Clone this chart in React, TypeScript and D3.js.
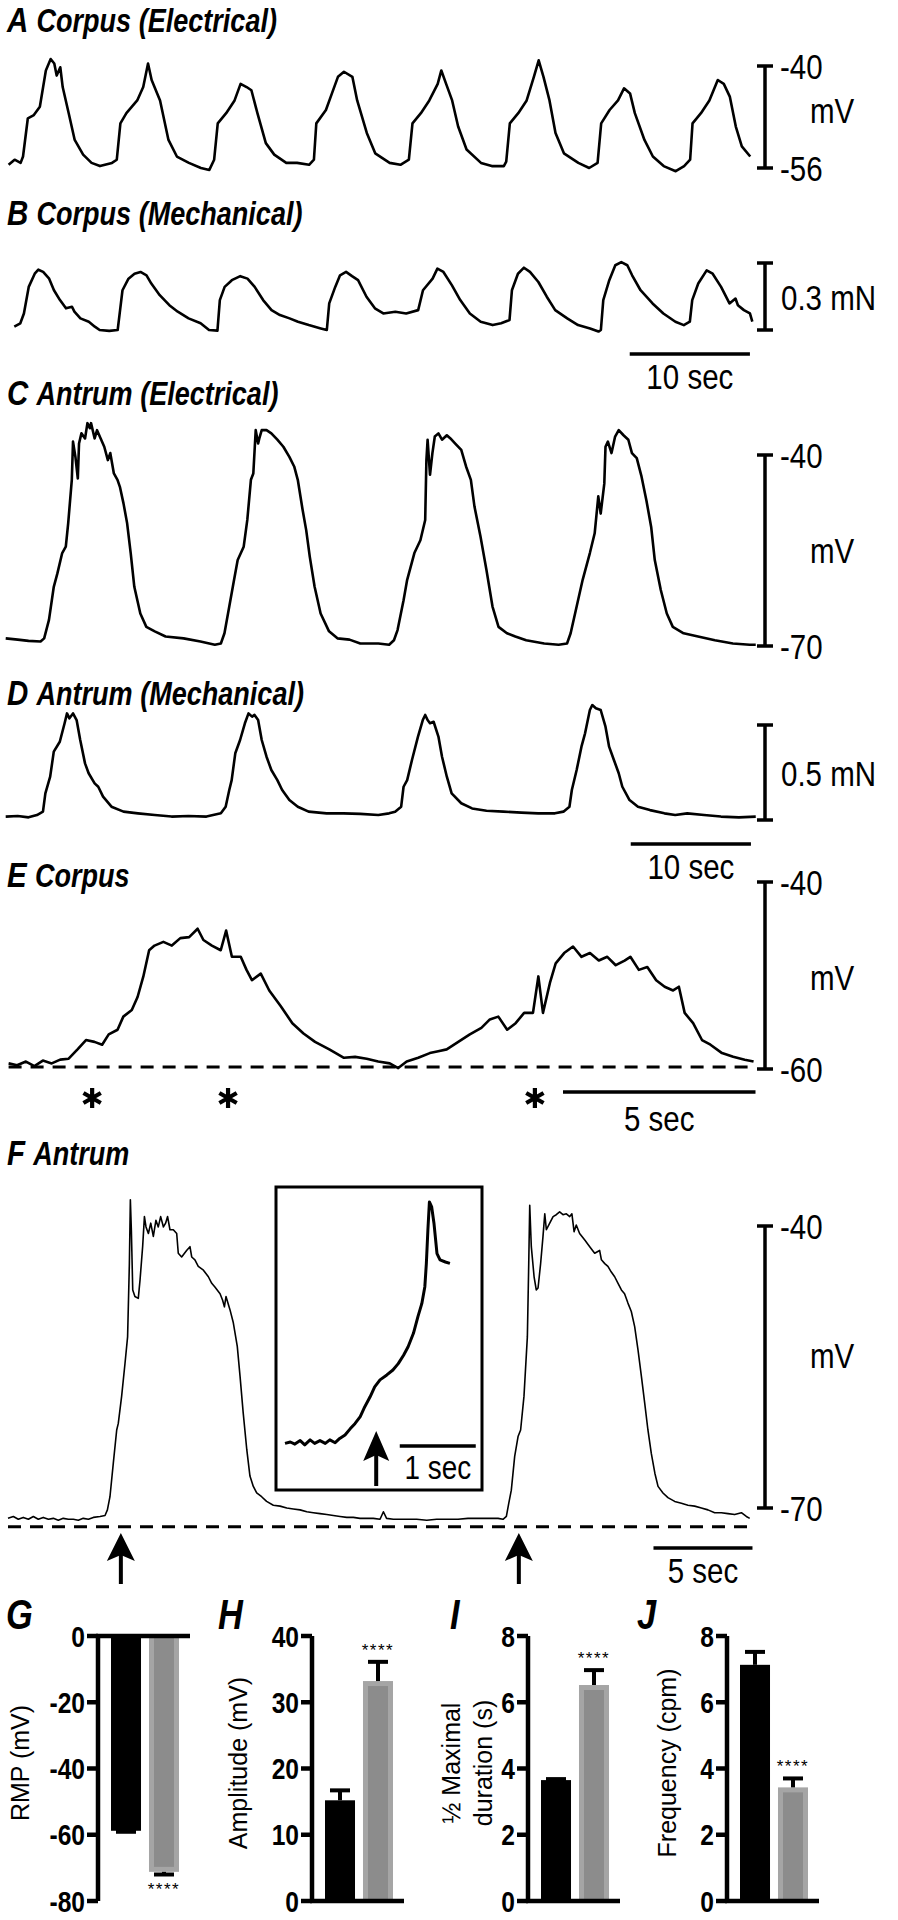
import * as d3 from "d3";
import React from "react";

const W = 898;
const H = 1920;
const FONT = "'Liberation Sans', Arial, Helvetica, sans-serif";
const NARROW = 0.82; // the figure uses a condensed face

// ---- traces: [time (s), value] ----
// A corpus electrical, mV
const corpusElec: [number, number][] = [
  [0,-55.5],[0.5,-54.7],[1.0,-55.2],[1.2,-54.2],[1.6,-48.2],[2.1,-47.7],[2.6,-46.4],[3.1,-40.7],[3.5,-38.9],[3.8,-39.6],[4.0,-41.5],[4.3,-40.2],[4.5,-43.3],[5.0,-47.4],[5.5,-51.6],[6.2,-53.9],[6.9,-55.2],[7.6,-55.7],[8.6,-55.2],[9.0,-54.7],
  [9.3,-49.0],[9.8,-47.4],[10.7,-45.4],[11.2,-43.3],[11.6,-39.6],[11.9,-42.2],[12.6,-45.4],[13.3,-51.6],[14.0,-54.2],[15.0,-55.2],[16.0,-56.0],[16.7,-56.3],[17.1,-54.7],
  [17.4,-49.0],[18.1,-47.4],[18.8,-45.4],[19.3,-42.8],[19.8,-43.3],[20.2,-43.8],[20.7,-47.4],[21.4,-52.1],[22.1,-53.9],[23.1,-55.2],[24.0,-55.2],[25.0,-55.5],[25.4,-54.7],
  [25.6,-49.0],[26.4,-46.9],[26.9,-44.3],[27.4,-41.7],[27.9,-40.9],[28.6,-41.7],[29.0,-45.4],[29.8,-50.5],[30.5,-53.7],[31.7,-55.2],[32.6,-55.5],[33.3,-54.7],
  [33.6,-49.0],[34.3,-47.4],[35.0,-45.4],[35.7,-42.8],[36.0,-40.7],[36.4,-42.8],[36.9,-45.4],[37.4,-49.5],[38.1,-53.1],[39.3,-55.2],[40.2,-55.7],[41.2,-55.7],[41.4,-55.0],
  [41.7,-49.0],[42.4,-47.4],[43.1,-45.4],[43.7,-41.7],[44.1,-39.1],[44.5,-41.7],[45.0,-45.4],[45.5,-50.5],[46.2,-53.7],[47.4,-55.2],[48.3,-56.0],[49.0,-55.2],
  [49.3,-49.0],[50.0,-46.9],[50.7,-45.4],[51.2,-43.5],[51.7,-44.3],[52.1,-47.4],[52.9,-51.6],[53.6,-54.2],[54.5,-55.7],[55.5,-56.5],[56.2,-55.7],[56.7,-54.7],
  [56.9,-49.0],[57.6,-47.4],[58.3,-45.4],[59.0,-42.2],[59.5,-42.8],[60.0,-44.8],[60.5,-49.5],[61.0,-52.6],[61.7,-54.2],
];

// B corpus mechanical, mN
const corpusMech: [number, number][] = [
  [0,0.015],[0.5,0.030],[0.8,0.074],[1.2,0.193],[1.7,0.252],[2.0,0.270],[2.4,0.260],[2.9,0.230],[3.3,0.178],[3.8,0.134],[4.3,0.097],[4.8,0.104],[5.0,0.082],[5.5,0.052],[6.2,0.037],[6.7,0.015],[7.1,0],[7.9,-0.004],[8.6,0],
  [8.8,0.089],[9.0,0.178],[9.5,0.230],[10.0,0.252],[10.5,0.260],[11.0,0.245],[11.4,0.208],[12.1,0.156],[12.9,0.111],[13.6,0.082],[14.5,0.052],[15.5,0.030],[16.2,0],[16.9,-0.003],
  [17.1,0.134],[17.5,0.193],[18.1,0.223],[18.8,0.241],[19.4,0.230],[20.0,0.193],[20.7,0.134],[21.4,0.089],[22.1,0.067],[22.9,0.052],[23.6,0.037],[24.5,0.022],[25.5,0.007],[26.0,0],
  [26.2,0.119],[26.7,0.193],[27.1,0.245],[27.6,0.260],[28.1,0.241],[28.6,0.223],[29.3,0.149],[30.0,0.097],[30.7,0.074],[31.7,0.082],[32.6,0.074],[33.6,0.089],
  [34.0,0.178],[34.8,0.230],[35.2,0.275],[35.7,0.260],[36.4,0.201],[37.1,0.134],[37.9,0.074],[38.8,0.037],[39.8,0.022],[40.5,0.030],[41.2,0.045],
  [41.4,0.178],[41.9,0.252],[42.4,0.279],[42.9,0.260],[43.6,0.215],[44.3,0.149],[45.0,0.089],[46.0,0.052],[46.9,0.022],[47.9,0.007],[48.6,-0.007],[48.8,0],
  [49.0,0.134],[49.5,0.223],[50.0,0.290],[50.5,0.304],[51.0,0.290],[51.4,0.245],[52.1,0.178],[53.1,0.119],[54.0,0.074],[55.0,0.037],[55.7,0.022],[56.2,0.037],
  [56.4,0.134],[56.9,0.208],[57.6,0.267],[58.1,0.252],[58.8,0.193],[59.5,0.119],[60.0,0.141],[60.2,0.111],[60.7,0.089],[61.2,0.074],[61.4,0.037],
];

// C antrum electrical, mV
const antrumElec: [number, number][] = [
  [0,-68.8],[1.0,-69.0],[1.9,-69.2],[2.9,-69.3],[3.2,-68.8],[3.6,-65.9],[4.0,-60.7],[4.3,-58.6],[4.7,-55.4],[5.0,-54.4],[5.2,-50.7],[5.5,-43.9],[5.6,-37.9],[5.8,-40.3],[6.0,-43.7],[6.1,-38.2],[6.3,-36.6],[6.6,-37.4],[6.8,-35.0],[7.0,-35.8],[7.1,-35.0],[7.4,-37.4],[7.6,-36.1],[7.9,-37.4],[8.2,-38.7],[8.5,-40.8],[8.7,-39.7],[9.0,-42.9],[9.3,-43.9],[9.5,-45.0],[9.8,-47.6],[10.1,-50.7],[10.4,-55.4],[10.7,-60.7],[11.2,-64.9],[11.7,-67.0],[12.4,-67.7],[13.3,-68.5],[14.8,-68.8],[16.2,-69.3],[17.4,-69.8],[17.9,-69.6],
  [18.2,-68.0],[18.6,-63.8],[19.0,-59.6],[19.3,-56.5],[19.8,-54.4],[20.1,-50.2],[20.4,-43.9],[20.6,-42.9],[20.8,-36.1],[21.0,-38.2],[21.1,-37.4],[21.3,-36.1],[21.7,-36.1],[22.1,-36.6],[22.6,-37.6],[23.1,-38.7],[23.6,-40.3],[24.0,-41.8],[24.3,-43.9],[24.7,-48.6],[25.0,-51.8],[25.3,-56.0],[25.7,-60.7],[26.2,-64.9],[26.9,-67.7],[27.6,-68.8],[28.6,-69.0],[29.5,-69.6],[31.0,-69.6],[31.9,-69.8],[32.3,-69.1],
  [32.6,-67.5],[33.1,-62.8],[33.4,-59.6],[34.0,-55.4],[34.5,-53.4],[34.9,-50.2],[35.0,-40.8],[35.1,-37.6],[35.3,-43.1],[35.5,-39.7],[35.7,-37.1],[36.0,-36.6],[36.3,-37.6],[36.7,-36.9],[37.0,-37.4],[37.4,-38.2],[37.9,-39.2],[38.3,-41.8],[38.7,-43.9],[39.0,-48.1],[39.5,-52.8],[40.0,-58.1],[40.5,-63.8],[41.0,-67.0],[41.7,-68.0],[42.4,-68.5],[43.3,-69.1],[44.8,-69.6],[46.0,-69.8],[46.7,-69.6],
  [47.0,-68.0],[47.5,-63.8],[48.0,-59.6],[48.6,-55.4],[49.0,-52.3],[49.3,-46.5],[49.5,-49.2],[49.8,-44.5],[49.9,-38.7],[50.1,-37.9],[50.4,-39.7],[50.7,-37.1],[51.0,-36.1],[51.4,-36.9],[51.8,-37.6],[52.1,-39.7],[52.5,-40.5],[52.9,-43.4],[53.3,-47.1],[53.7,-51.3],[54.0,-56.5],[54.5,-61.2],[55.0,-64.9],[55.5,-67.0],[56.4,-68.0],[57.6,-68.5],[59.0,-69.1],[60.5,-69.6],[61.9,-69.8],[62.4,-69.8],
];

// D antrum mechanical, mN
const antrumMech: [number, number][] = [
  [0,0.018],[1.0,0.021],[1.9,0.014],[2.6,0.026],[3.1,0.044],[3.3,0.140],[3.7,0.228],[4.0,0.360],[4.5,0.412],[4.9,0.509],[5.1,0.561],[5.3,0.535],[5.6,0.561],[5.9,0.526],[6.2,0.421],[6.6,0.298],[6.9,0.246],[7.4,0.193],[7.7,0.175],[8.1,0.123],[8.8,0.070],[9.8,0.044],[11.0,0.035],[12.4,0.026],[13.8,0.018],[15.2,0.021],[16.7,0.018],[17.9,0.035],
  [18.3,0.070],[18.6,0.158],[18.8,0.210],[19.1,0.351],[19.5,0.421],[19.9,0.509],[20.2,0.561],[20.5,0.544],[20.7,0.553],[21.0,0.526],[21.3,0.421],[21.7,0.333],[22.1,0.263],[22.6,0.210],[23.0,0.158],[23.6,0.105],[24.3,0.070],[25.2,0.044],[26.7,0.035],[28.1,0.035],[29.5,0.032],[31.0,0.026],[31.9,0.035],[32.4,0.044],
  [32.9,0.070],[33.1,0.175],[33.4,0.210],[33.8,0.316],[34.3,0.439],[34.7,0.526],[34.9,0.553],[35.1,0.526],[35.3,0.509],[35.6,0.517],[36.0,0.439],[36.3,0.333],[36.7,0.228],[37.1,0.140],[37.9,0.088],[38.8,0.061],[40.0,0.049],[41.4,0.044],[42.9,0.039],[44.3,0.035],[45.7,0.035],[46.4,0.044],
  [46.9,0.070],[47.1,0.158],[47.5,0.263],[47.9,0.386],[48.2,0.456],[48.6,0.579],[48.8,0.605],[49.1,0.588],[49.5,0.579],[49.9,0.491],[50.2,0.386],[50.6,0.316],[51.0,0.246],[51.3,0.175],[51.9,0.105],[52.6,0.070],[53.6,0.052],[54.8,0.035],[55.7,0.026],[56.7,0.035],[58.1,0.026],[59.5,0.018],[61.0,0.014],[62.4,0.018],
];

// E corpus slow wave, mV
const corpusSlow: [number, number][] = [
  [0,-59.4],[0.22,-59.6],[0.45,-59.2],[0.67,-59.7],[0.89,-59.1],[1.12,-59.4],[1.34,-59.0],[1.56,-58.9],[1.79,-57.9],[2.01,-56.9],[2.23,-57.1],[2.43,-57.4],[2.60,-56.3],[2.83,-55.8],[2.98,-54.4],[3.20,-53.7],[3.35,-52.3],[3.50,-50.1],[3.65,-47.3],[3.79,-46.8],[4.02,-46.4],[4.24,-46.8],[4.46,-46.0],[4.69,-45.9],[4.91,-45.0],[5.06,-46.2],[5.28,-46.8],[5.51,-47.3],[5.65,-45.2],[5.80,-48.0],[6.03,-48.0],[6.18,-49.4],[6.32,-50.5],[6.55,-49.8],[6.77,-51.6],[7.07,-53.3],[7.37,-55.1],[7.66,-56.2],[7.96,-57.1],[8.33,-57.9],[8.71,-58.8],[9.00,-58.7],[9.30,-58.9],[9.60,-59.2],[9.90,-59.4],[10.12,-59.9],[10.34,-59.2],[10.64,-58.8],[10.94,-58.3],[11.16,-58.1],[11.38,-57.9],[11.68,-57.1],[11.98,-56.3],[12.28,-55.6],[12.50,-54.7],[12.72,-54.4],[12.95,-55.8],[13.17,-55.1],[13.39,-54.0],[13.62,-54.0],[13.76,-50.1],[13.88,-54.0],[14.06,-50.8],[14.21,-48.7],[14.43,-47.6],[14.66,-46.9],[14.88,-48.0],[15.10,-47.6],[15.33,-48.4],[15.55,-48.0],[15.77,-48.9],[16.00,-48.4],[16.15,-48.0],[16.37,-49.4],[16.59,-49.1],[16.82,-50.5],[17.04,-51.2],[17.26,-51.6],[17.41,-51.2],[17.56,-54.0],[17.78,-55.1],[18.01,-56.9],[18.23,-57.4],[18.53,-58.3],[18.82,-58.7],[19.12,-59.0],[19.35,-59.2],
];
const corpusStars = [2.17, 5.7, 13.67];

// F antrum slow wave, mV
const antrumSlow: [number, number][] = [
  [0,-71.1],[0.27,-70.9],[0.52,-71.2],[0.77,-71.0],[1.03,-71.2],[1.28,-70.9],[1.53,-71.2],[1.78,-71.0],[2.04,-71.2],[2.29,-71.1],[2.54,-71.3],[2.79,-71.1],[3.05,-71.2],[3.30,-71.2],[3.55,-71.3],[3.80,-71.1],[4.06,-71.2],[4.31,-71.0],[4.65,-70.9],[4.90,-70.8],[5.02,-70.2],[5.15,-68.8],[5.32,-65.2],[5.49,-61.7],[5.57,-61.0],[5.74,-58.1],[5.91,-54.6],[6.04,-51.8],[6.13,-44.0],[6.18,-37.2],[6.23,-40.4],[6.30,-46.8],[6.41,-47.5],[6.58,-47.7],[6.67,-45.7],[6.80,-42.2],[6.89,-39.0],[6.97,-40.1],[7.09,-40.8],[7.21,-39.7],[7.34,-41.1],[7.47,-39.4],[7.59,-40.1],[7.71,-39.0],[7.85,-40.1],[7.96,-39.7],[8.06,-39.0],[8.18,-40.4],[8.35,-40.4],[8.52,-40.8],[8.60,-42.9],[8.77,-43.3],[9.02,-42.6],[9.19,-42.2],[9.28,-43.3],[9.44,-43.6],[9.61,-44.3],[9.87,-44.7],[10.12,-45.4],[10.29,-46.1],[10.45,-46.5],[10.71,-47.2],[10.84,-47.9],[10.93,-48.6],[11.01,-47.5],[11.21,-48.9],[11.38,-50.3],[11.58,-52.8],[11.72,-56.0],[11.88,-59.9],[12.06,-63.8],[12.22,-66.6],[12.39,-67.7],[12.56,-68.4],[12.81,-68.8],[13.06,-69.3],[13.40,-69.7],[13.74,-69.8],[14.08,-70.0],[14.41,-70.1],[14.75,-70.2],[15.09,-70.4],[15.42,-70.5],[15.76,-70.6],[16.10,-70.7],[16.43,-70.8],[16.77,-70.9],[17.11,-71.0],[17.44,-71.0],[17.78,-71.1],[18.12,-71.1],[18.45,-71.1],[18.79,-71.2],[18.96,-70.4],[19.12,-71.1],[19.46,-71.2],[19.80,-71.2],[20.14,-71.2],[20.64,-71.2],[21.15,-71.3],[21.65,-71.2],[22.16,-71.2],
  [22.73,-71.2],[23.23,-71.1],[23.74,-71.1],[24.24,-71.1],[24.75,-71.1],[25.0,-71.2],[25.17,-70.9],[25.29,-69.5],[25.42,-68.1],[25.59,-64.5],[25.76,-62.4],[25.89,-61.7],[26.06,-58.1],[26.23,-51.8],[26.30,-44.0],[26.35,-37.8],[26.43,-42.2],[26.57,-45.4],[26.68,-46.8],[26.77,-46.6],[26.90,-44.0],[27.02,-41.1],[27.11,-38.7],[27.19,-40.4],[27.36,-39.7],[27.53,-39.0],[27.69,-38.8],[27.86,-38.5],[28.03,-38.8],[28.20,-38.7],[28.37,-39.0],[28.48,-38.7],[28.59,-40.6],[28.70,-39.9],[28.87,-40.8],[29.13,-41.5],[29.38,-42.2],[29.63,-42.9],[29.88,-42.6],[29.97,-43.6],[30.14,-44.0],[30.30,-44.3],[30.47,-44.9],[30.64,-45.4],[30.81,-46.1],[30.98,-46.8],[31.14,-47.2],[31.31,-48.2],[31.48,-49.1],[31.65,-50.7],[31.82,-53.2],[31.99,-56.0],[32.16,-58.9],[32.32,-61.7],[32.49,-64.2],[32.67,-66.3],[32.83,-67.7],[33.08,-68.4],[33.33,-68.9],[33.67,-69.3],[34.01,-69.5],[34.34,-69.7],[34.68,-69.8],[35.02,-70.0],[35.35,-70.2],[35.69,-70.5],[36.03,-70.5],[36.36,-70.6],[36.70,-70.7],[37.04,-70.5],[37.29,-70.9],[37.46,-71.1],
];
const antrumStim = [5.7, 25.8];
const antrumRest = -72;

// F inset: upstroke on expanded time base
const antrumInset: [number, number][] = [
  [0,-71.2],[0.07,-71.0],[0.13,-71.3],[0.2,-70.8],[0.26,-71.4],[0.33,-70.7],[0.39,-71.2],[0.46,-70.8],[0.53,-71.2],[0.59,-70.7],[0.66,-71.1],[0.72,-70.5],[0.79,-70.0],[0.86,-69.1],[0.92,-68.4],[0.99,-67.4],[1.05,-66.0],[1.12,-64.6],[1.18,-63.2],[1.25,-62.2],[1.34,-61.5],[1.42,-60.8],[1.49,-59.9],[1.56,-58.7],[1.62,-57.5],[1.69,-55.6],[1.75,-53.2],[1.80,-51.4],[1.84,-49.0],[1.86,-45.7],[1.88,-41.0],[1.90,-37.0],[1.93,-37.7],[1.96,-40.0],[2.00,-44.3],[2.04,-45.2],[2.11,-45.5],[2.17,-45.7],
];
const insetStim = 1.2;

// ---- summary bars (corpus black, antrum grey) ----
const groups = ["Corpus", "Antrum"];
const rmpMean = [-58.8, -71.2];
const rmpSem = [0.3, 0.8];
const ampMean = [15.2, 33.2];
const ampSem = [1.5, 2.9];
const durMean = [3.65, 6.52];
const durSem = [0.03, 0.45];
const freqMean = [7.13, 3.43];
const freqSem = [0.39, 0.27];
const rmpTicks = [0, -20, -40, -60, -80];
const ampTicks = [0, 10, 20, 30, 40];
const durTicks = [0, 2, 4, 6, 8];
const freqTicks = [0, 2, 4, 6, 8];
const sigMarks = ["", "****"];

type Sc = d3.ScaleLinear<number, number>;

// condensed text: scale horizontally around the anchor point
function NText({ x, y, size, children, anchor = "start", weight, italic }: {
  x: number; y: number; size: number; children: React.ReactNode; anchor?: string; weight?: string; italic?: boolean;
}) {
  return (
    <text transform={`translate(${x},${y}) scale(${NARROW},1)`} textAnchor={anchor} fontFamily={FONT}
      fontSize={size} fontWeight={weight} fontStyle={italic ? "italic" : undefined} fill="#000">
      {children}
    </text>
  );
}

function Title({ x, y, letter, label }: { x: number; y: number; letter: string; label?: string }) {
  return (
    <NText x={x} y={y} size={label ? 36 : 42} weight="bold" italic>
      <tspan>{letter}</tspan>
      {label && <tspan fontSize={33} dx={10}>{label}</tspan>}
    </NText>
  );
}

function Trace({ data, xs, ys, sw }: { data: [number, number][]; xs: Sc; ys: Sc; sw: number }) {
  const line = d3.line<[number, number]>().x(d => xs(d[0])).y(d => ys(d[1]));
  return <path d={line(data) || ""} fill="none" stroke="#000" strokeWidth={sw} strokeLinejoin="round" />;
}

// bold six-armed asterisk marker
function Star({ x, y, r = 10 }: { x: number; y: number; r?: number }) {
  const arms = [90, 30, 150].map(a => {
    const dx = r * Math.cos((a * Math.PI) / 180);
    const dy = r * Math.sin((a * Math.PI) / 180);
    return `M${x - dx},${y - dy}L${x + dx},${y + dy}`;
  });
  return <path d={arms.join("")} stroke="#000" strokeWidth={4.2} strokeLinecap="butt" fill="none" />;
}

const BAR_X = 765;
const LAB = 36;
function VScale({ y0, y1, top, bottom, mid, midY }: { y0: number; y1: number; top?: string; bottom?: string; mid?: string; midY?: number }) {
  return (
    <g>
      <line x1={BAR_X} x2={BAR_X} y1={y0} y2={y1} stroke="#000" strokeWidth={3.5} />
      <line x1={BAR_X - 8} x2={BAR_X + 8} y1={y0} y2={y0} stroke="#000" strokeWidth={3.5} />
      <line x1={BAR_X - 8} x2={BAR_X + 8} y1={y1} y2={y1} stroke="#000" strokeWidth={3.5} />
      {top && <NText x={BAR_X + 15} y={y0 + 13} size={LAB}>{top}</NText>}
      {bottom && <NText x={BAR_X + 15} y={y1 + 13} size={LAB}>{bottom}</NText>}
      {mid && <NText x={mid === "mV" ? BAR_X + 45 : BAR_X + 16} y={(midY ?? (y0 + y1) / 2) + 13} size={LAB}>{mid}</NText>}
    </g>
  );
}

function TimeBar({ xs, tEnd, len, y, label, textY, size = LAB }: { xs: Sc; tEnd: number; len: number; y: number; label: string; textY: number; size?: number }) {
  const x0 = xs(tEnd - len);
  const x1 = xs(tEnd);
  return (
    <g>
      <line x1={x0} x2={x1} y1={y} y2={y} stroke="#000" strokeWidth={3.5} />
      <NText x={(x0 + x1) / 2} y={textY} size={size} anchor="middle">{label}</NText>
    </g>
  );
}

function Arrow({ x, tip, bottom, head = 24, hw = 14 }: { x: number; tip: number; bottom: number; head?: number; hw?: number }) {
  return (
    <g>
      <line x1={x} x2={x} y1={tip + head - 2} y2={bottom} stroke="#000" strokeWidth={4} />
      <path d={`M${x},${tip} L${x + hw},${tip + head + 4} L${x},${tip + head - 2} L${x - hw},${tip + head + 4} Z`} fill="#000" />
    </g>
  );
}

const BAR_TOP = 1636;
const BAR_BOTTOM = 1901;
function BarPanel({ axisX, domain, ticks, means, sems, labels, labelX }: {
  axisX: number; domain: [number, number]; ticks: number[]; means: number[]; sems: number[]; labels: string[]; labelX: number[];
}) {
  const ys = d3.scaleLinear().domain(domain).range([BAR_BOTTOM, BAR_TOP]);
  const xb = d3.scaleBand<string>().domain(groups).range([axisX + 13, axisX + 81]).paddingInner(0.21);
  const bw = xb.bandwidth();
  const y0 = ys(0);
  const neg = domain[1] === 0;
  const midY = 1763;
  return (
    <g fontFamily={FONT}>
      {groups.map((g, i) => {
        const x = xb(g) as number;
        const yv = ys(means[i]);
        const top = Math.min(y0, yv);
        const h = Math.abs(yv - y0);
        const ye = ys(neg ? means[i] - sems[i] : means[i] + sems[i]);
        return (
          <g key={g}>
            {i === 0 ? (
              <rect x={x} y={top} width={bw} height={h} fill="#000" />
            ) : (
              <g>
                <rect x={x} y={top} width={bw} height={h} fill="#a5a5a5" />
                <rect x={x + 5} y={neg ? top : top + 5} width={bw - 10} height={h - 5} fill="#8c8c8c" />
              </g>
            )}
            <line x1={x + bw / 2} x2={x + bw / 2} y1={yv} y2={ye} stroke="#000" strokeWidth={4} />
            <line x1={x + bw / 2 - 10} x2={x + bw / 2 + 10} y1={ye} y2={ye} stroke="#000" strokeWidth={4} />
            {sigMarks[i] && (
              <text x={x + bw / 2} y={neg ? ye + 20 : ye - 6} textAnchor="middle" fontSize={17} letterSpacing={1.5}>{sigMarks[i]}</text>
            )}
          </g>
        );
      })}
      <line x1={axisX} x2={axisX} y1={BAR_TOP} y2={BAR_BOTTOM} stroke="#000" strokeWidth={4.5} />
      <line x1={axisX - 2} x2={axisX + 92} y1={y0} y2={y0} stroke="#000" strokeWidth={4.5} />
      {ticks.map(t => (
        <g key={t}>
          <line x1={axisX - 11} x2={axisX} y1={ys(t)} y2={ys(t)} stroke="#000" strokeWidth={4.5} />
          <NText x={axisX - 13} y={ys(t) + 10.5} size={30} anchor="end" weight="bold">{t}</NText>
        </g>
      ))}
      {labels.map((l, i) => (
        <text key={l} transform={`translate(${labelX[i] + 9},${midY}) rotate(-90)`} textAnchor="middle" fontSize={25}>{l}</text>
      ))}
    </g>
  );
}

export default function App() {
  // time scales (px per second taken from the scale bars)
  const xA = d3.scaleLinear().domain([0, 61.7]).range([8.6, 8.6 + 61.7 * 12.02]);
  const yA = d3.scaleLinear().domain([-56, -40]).range([168, 66]);
  const xB = d3.scaleLinear().domain([0, 61.4]).range([14.3, 14.3 + 61.4 * 12.02]);
  const yB = d3.scaleLinear().domain([0, 0.3]).range([330, 263]);
  const xC = d3.scaleLinear().domain([0, 62.4]).range([5.7, 5.7 + 62.4 * 12.02]);
  const yC = d3.scaleLinear().domain([-70, -40]).range([646, 455]);
  const yD = d3.scaleLinear().domain([0, 0.5]).range([820, 725]);
  const xE = d3.scaleLinear().domain([0, 19.35]).range([8.6, 8.6 + 19.35 * 38.5]);
  const yE = d3.scaleLinear().domain([-60, -40]).range([1069, 882]);
  const xF = d3.scaleLinear().domain([0, 37.46]).range([8, 8 + 37.46 * 19.8]);
  const yF = d3.scaleLinear().domain([-70, -40]).range([1508, 1226]);
  const xI = d3.scaleLinear().domain([0, 1]).range([285, 361]);
  const yI = d3.scaleLinear().domain([-71, -37]).range([1442, 1202]);

  return (
    <svg width={W} height={H} viewBox={`0 0 ${W} ${H}`} style={{ position: "absolute", left: 0, top: 0, background: "#fff" }}>
      <rect width={W} height={H} fill="#fff" />

      {/* A */}
      <Title x={7} y={32} letter="A" label="Corpus (Electrical)" />
      <Trace data={corpusElec} xs={xA} ys={yA} sw={2.6} />
      <VScale y0={yA(-40)} y1={yA(-56)} top="-40" bottom="-56" mid="mV" midY={110} />

      {/* B */}
      <Title x={7} y={225} letter="B" label="Corpus (Mechanical)" />
      <Trace data={corpusMech} xs={xB} ys={yB} sw={2.6} />
      <VScale y0={yB(0.3)} y1={yB(0)} mid="0.3 mN" />
      <TimeBar xs={xB} tEnd={61.2} len={10} y={354} label="10 sec" textY={389} />

      {/* C */}
      <Title x={7} y={405} letter="C" label="Antrum (Electrical)" />
      <Trace data={antrumElec} xs={xC} ys={yC} sw={2.6} />
      <VScale y0={yC(-40)} y1={yC(-70)} top="-40" bottom="-70" mid="mV" midY={550} />

      {/* D */}
      <Title x={7} y={705} letter="D" label="Antrum (Mechanical)" />
      <Trace data={antrumMech} xs={xC} ys={yD} sw={2.6} />
      <VScale y0={yD(0.5)} y1={yD(0)} mid="0.5 mN" />
      <TimeBar xs={xC} tEnd={62.0} len={10} y={844} label="10 sec" textY={879} />

      {/* E */}
      <Title x={7} y={887} letter="E" label="Corpus" />
      <line x1={xE(0)} x2={xE(19.35)} y1={yE(-60) - 2} y2={yE(-60) - 2} stroke="#000" strokeWidth={3} strokeDasharray="13,9" />
      <Trace data={corpusSlow} xs={xE} ys={yE} sw={2.6} />
      <VScale y0={yE(-40)} y1={yE(-60)} top="-40" bottom="-60" mid="mV" midY={977} />
      {corpusStars.map(t => (
        <Star key={t} x={xE(t)} y={1098} />
      ))}
      <TimeBar xs={xE} tEnd={19.4} len={5} y={1092} label="5 sec" textY={1131} />

      {/* F */}
      <Title x={7} y={1165} letter="F" label="Antrum" />
      <line x1={xF(0)} x2={xF(37.46)} y1={yF(antrumRest)} y2={yF(antrumRest)} stroke="#000" strokeWidth={3} strokeDasharray="13,9" />
      <Trace data={antrumSlow} xs={xF} ys={yF} sw={1.6} />
      <VScale y0={yF(-40)} y1={yF(-70)} top="-40" bottom="-70" mid="mV" midY={1355} />
      {antrumStim.map(t => (
        <Arrow key={t} x={xF(t)} tip={1533} bottom={1584} />
      ))}
      <TimeBar xs={xF} tEnd={37.6} len={5} y={1548} label="5 sec" textY={1583} />

      {/* F inset */}
      <rect x={276} y={1187} width={206} height={303} fill="none" stroke="#000" strokeWidth={3} />
      <Trace data={antrumInset} xs={xI} ys={yI} sw={3} />
      <Arrow x={xI(insetStim)} tip={1431} bottom={1486} head={26} hw={13} />
      <TimeBar xs={xI} tEnd={2.51} len={1} y={1446} label="1 sec" textY={1479} size={34} />

      {/* G-J */}
      <Title x={6} y={1629} letter="G" />
      <Title x={218} y={1629} letter="H" />
      <Title x={450} y={1629} letter="I" />
      <Title x={637} y={1629} letter="J" />
      <BarPanel axisX={98} domain={[-80, 0]} ticks={rmpTicks} means={rmpMean} sems={rmpSem} labels={["RMP (mV)"]} labelX={[20]} />
      <BarPanel axisX={312} domain={[0, 40]} ticks={ampTicks} means={ampMean} sems={ampSem} labels={["Amplitude (mV)"]} labelX={[238]} />
      <BarPanel axisX={528} domain={[0, 8]} ticks={durTicks} means={durMean} sems={durSem} labels={["½ Maximal", "duration (s)"]} labelX={[451, 483]} />
      <BarPanel axisX={727} domain={[0, 8]} ticks={freqTicks} means={freqMean} sems={freqSem} labels={["Frequency (cpm)"]} labelX={[667]} />
    </svg>
  );
}
